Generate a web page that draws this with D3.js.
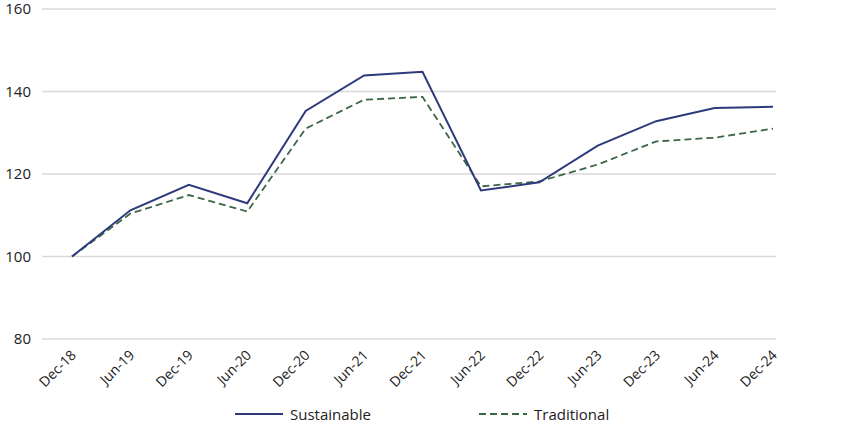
<!DOCTYPE html>
<html><head><meta charset="utf-8">
<script src="https://cdn.jsdelivr.net/npm/d3@7"></script>
<style>body{margin:0;background:#fff}text{font-family:"Open Sans",Lato,sans-serif}</style>
</head><body>
<svg id="c" width="850" height="435"></svg>
<script>
const periods = ["Dec-18","Jun-19","Dec-19","Jun-20","Dec-20","Jun-21","Dec-21","Jun-22","Dec-22","Jun-23","Dec-23","Jun-24","Dec-24"];
const sustainable = [100, 111.2, 117.4, 112.9, 135.3, 143.9, 144.8, 116, 118, 126.9, 132.8, 136, 136.3];
const traditional = [100, 110.4, 114.9, 110.9, 131, 138, 138.7, 117, 118.2, 122.3, 127.9, 128.8, 131];
const yTicks = [80, 100, 120, 140, 160];

const svg = d3.select("#c");
const x = d3.scalePoint().domain(periods).range([72, 773]);
const y = d3.scaleLinear().domain([80, 160]).range([339, 9]);

svg.append("g").selectAll("line").data(yTicks).join("line")
  .attr("x1", 42).attr("x2", 776)
  .attr("y1", d => y(d)).attr("y2", d => y(d))
  .attr("stroke", "#d9d9d9").attr("stroke-width", 1.5);

svg.append("g").selectAll("text").data(yTicks).join("text")
  .attr("x", 31).attr("y", d => y(d) + 5).attr("text-anchor", "end")
  .attr("font-size", 15).attr("fill", "#222").text(d => d);

svg.append("g").selectAll("text").data(periods).join("text")
  .attr("transform", d => `translate(${x(d) + 5},${356}) rotate(-45)`)
  .attr("text-anchor", "end").attr("font-size", 14).attr("fill", "#222").text(d => d);

const line = d3.line().x((d, i) => x(periods[i])).y(d => y(d));
svg.append("path").datum(traditional).attr("d", line).attr("fill", "none")
  .attr("stroke", "#3d6647").attr("stroke-width", 1.8).attr("stroke-dasharray", "7,4");
svg.append("path").datum(sustainable).attr("d", line).attr("fill", "none")
  .attr("stroke", "#2e3a7c").attr("stroke-width", 2);

const lg = svg.append("g");
lg.append("line").attr("x1", 235).attr("x2", 283).attr("y1", 414).attr("y2", 414)
  .attr("stroke", "#2e3a7c").attr("stroke-width", 2);
lg.append("text").attr("x", 290).attr("y", 420).attr("font-size", 15).attr("fill", "#222").text("Sustainable");
lg.append("line").attr("x1", 479).attr("x2", 527).attr("y1", 414).attr("y2", 414)
  .attr("stroke", "#3d6647").attr("stroke-width", 1.8).attr("stroke-dasharray", "7,4");
lg.append("text").attr("x", 534).attr("y", 420).attr("font-size", 15).attr("fill", "#222").text("Traditional");
</script>
</body></html>
